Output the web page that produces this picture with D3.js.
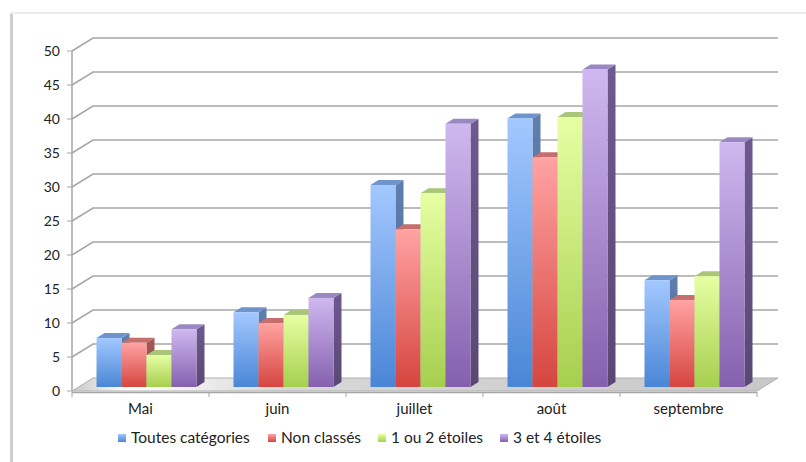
<!DOCTYPE html>
<html>
<head>
<meta charset="utf-8">
<script src="https://cdn.jsdelivr.net/npm/d3@7"></script>
<style>
body { margin: 0; background: #fff; }
text { font-family: Lato, "Open Sans", sans-serif; fill: #222; }
</style>
</head>
<body>
<script>
// data
var months = ["Mai", "juin", "juillet", "août", "septembre"];
var seriesNames = ["Toutes catégories", "Non classés", "1 ou 2 étoiles", "3 et 4 étoiles"];
var toutes = [7.2, 11.0, 29.7, 39.5, 15.7];
var nonClasses = [6.5, 9.4, 23.2, 33.8, 12.8];
var etoiles12 = [4.7, 10.6, 28.5, 39.7, 16.3];
var etoiles34 = [8.5, 13.1, 38.7, 46.7, 36.0];
var yTicks = [0, 5, 10, 15, 20, 25, 30, 35, 40, 45, 50];

var seriesValues = [toutes, nonClasses, etoiles12, etoiles34];
// front, top, side colours per series
var colors = [
    {light: "#a3c8ff", dark: "#4a86d6", top: "#6f93cc", side: "#5f7fae"},
    {light: "#ffa3a3", dark: "#d6453f", top: "#c56e6e", side: "#a85858"},
    {light: "#e6ffa3", dark: "#a6cf4e", top: "#a9c578", side: "#90aa62"},
    {light: "#cfb8f0", dark: "#8560ae", top: "#9a88c2", side: "#6e5990"}
];

var W = 806, H = 462;
var wallDx = 21, wallDy = -13;      // depth of the back wall
var barShiftX = 6, barShiftY = -4;  // bar front plane offset
var barDx = 8, barDy = -5;          // bar depth
var barW = 25;

var svg = d3.select("body").append("svg")
    .attr("width", W)
    .attr("height", H)

var defs = svg.append("defs")

// frame shadow
svg.append("rect")
    .attr("x", 10).attr("y", 13)
    .attr("width", 3).attr("height", H - 13)
    .attr("fill", "#cfcfcf")
svg.append("line")
    .attr("x1", 10).attr("x2", W).attr("y1", 13).attr("y2", 13)
    .attr("stroke", "#ececec").attr("stroke-width", 2)

var y = d3.scaleLinear().domain([0, 50]).range([391, 51]);
var x = d3.scaleBand().domain(months).range([72, 757]);
var xs = d3.scaleBand().domain(d3.range(seriesNames.length))
    .range([0, barW * seriesNames.length]);

var x0 = x.range()[0], x1 = x.range()[1];

// floor
var floorGrad = defs.append("linearGradient")
    .attr("id", "floorGrad")
    .attr("x1", "0").attr("x2", "1").attr("y1", "0").attr("y2", "0")
floorGrad.append("stop").attr("offset", "0").attr("stop-color", "#c8c8c8")
floorGrad.append("stop").attr("offset", "0.08").attr("stop-color", "#ffffff")
floorGrad.append("stop").attr("offset", "0.3").attr("stop-color", "#d8d8d8")
floorGrad.append("stop").attr("offset", "1").attr("stop-color", "#c8c8c8")

svg.append("polygon")
    .attr("points", [[x0, y(0)], [x1, y(0)], [x1 + wallDx, y(0) + wallDy], [x0 + wallDx, y(0) + wallDy]].join(" "))
    .attr("fill", "url(#floorGrad)")
    .attr("stroke", "#b0b0b0")
    .attr("stroke-width", 1)

// gridlines: left wall diagonal + back wall horizontal
yTicks.filter(function(t) { return t > 0; }).forEach(function(t) {
    svg.append("polyline")
        .attr("points", [[x0, y(t)], [x0 + wallDx, y(t) + wallDy], [x1 + wallDx, y(t) + wallDy]].join(" "))
        .attr("fill", "none")
        .attr("stroke", "#a6a6a6")
        .attr("stroke-width", 1.5)
});

// vertical axis
svg.append("line")
    .attr("x1", x0).attr("x2", x0).attr("y1", y(50)).attr("y2", y(0))
    .attr("stroke", "#a6a6a6").attr("stroke-width", 1.5)
yTicks.forEach(function(t) {
    svg.append("line")
        .attr("x1", x0 - 5).attr("x2", x0).attr("y1", y(t)).attr("y2", y(t))
        .attr("stroke", "#a6a6a6").attr("stroke-width", 1)
    svg.append("text")
        .attr("x", 60)
        .attr("y", y(t) + 5)
        .attr("text-anchor", "end")
        .attr("font-size", 14)
        .text(t)
});

// horizontal axis line and ticks
svg.append("line")
    .attr("x1", x0).attr("x2", x1).attr("y1", y(0) + 1.5).attr("y2", y(0) + 1.5)
    .attr("stroke", "#a6a6a6").attr("stroke-width", 1.5)
months.concat(["end"]).forEach(function(m, i) {
    var tx = i < months.length ? x(m) : x1;
    svg.append("line")
        .attr("x1", tx).attr("x2", tx).attr("y1", y(0) + 1).attr("y2", y(0) + 6)
        .attr("stroke", "#a6a6a6").attr("stroke-width", 1)
});
months.forEach(function(m) {
    svg.append("text")
        .attr("x", x(m) + x.bandwidth() / 2)
        .attr("y", 414)
        .attr("text-anchor", "middle")
        .attr("font-size", 15)
        .text(m)
});

// gradients for the bars
colors.forEach(function(c, i) {
    var g = defs.append("linearGradient")
        .attr("id", "front" + i)
        .attr("x1", "0").attr("x2", "0").attr("y1", "0").attr("y2", "1")
    g.append("stop").attr("offset", "0").attr("stop-color", c.light)
    g.append("stop").attr("offset", "1").attr("stop-color", c.dark)
    var s = defs.append("linearGradient")
        .attr("id", "side" + i)
        .attr("x1", "0").attr("x2", "0").attr("y1", "0").attr("y2", "1")
    s.append("stop").attr("offset", "0").attr("stop-color", c.side)
    s.append("stop").attr("offset", "1").attr("stop-color", d3.color(c.side).darker(0.6))
});

// 3D bars, drawn left to right so each front hides the previous side
var yBase = y(0) + barShiftY;
months.forEach(function(m, mi) {
    var groupLeft = x(m) + barShiftX + (x.bandwidth() - xs.range()[1]) / 2;
    seriesValues.forEach(function(vals, si) {
        var bx = groupLeft + xs(si);
        var top = y(vals[mi]) + barShiftY;
        var bw = xs.bandwidth();
        svg.append("polygon")
            .attr("points", [[bx + bw, top], [bx + bw + barDx, top + barDy], [bx + bw + barDx, yBase + barDy], [bx + bw, yBase]].join(" "))
            .attr("fill", "url(#side" + si + ")")
        svg.append("polygon")
            .attr("points", [[bx, top], [bx + barDx, top + barDy], [bx + bw + barDx, top + barDy], [bx + bw, top]].join(" "))
            .attr("fill", colors[si].top)
        svg.append("rect")
            .attr("x", bx)
            .attr("y", top)
            .attr("width", bw)
            .attr("height", yBase - top)
            .attr("fill", "url(#front" + si + ")")
    });
});

// legend
var legendX = [118, 268, 378, 500];
seriesNames.forEach(function(n, i) {
    svg.append("rect")
        .attr("x", legendX[i])
        .attr("y", 434)
        .attr("width", 8)
        .attr("height", 8)
        .attr("fill", "url(#front" + i + ")")
    svg.append("text")
        .attr("x", legendX[i] + 13)
        .attr("y", 443)
        .attr("font-size", 15.5)
        .text(n)
});
</script>
</body>
</html>
